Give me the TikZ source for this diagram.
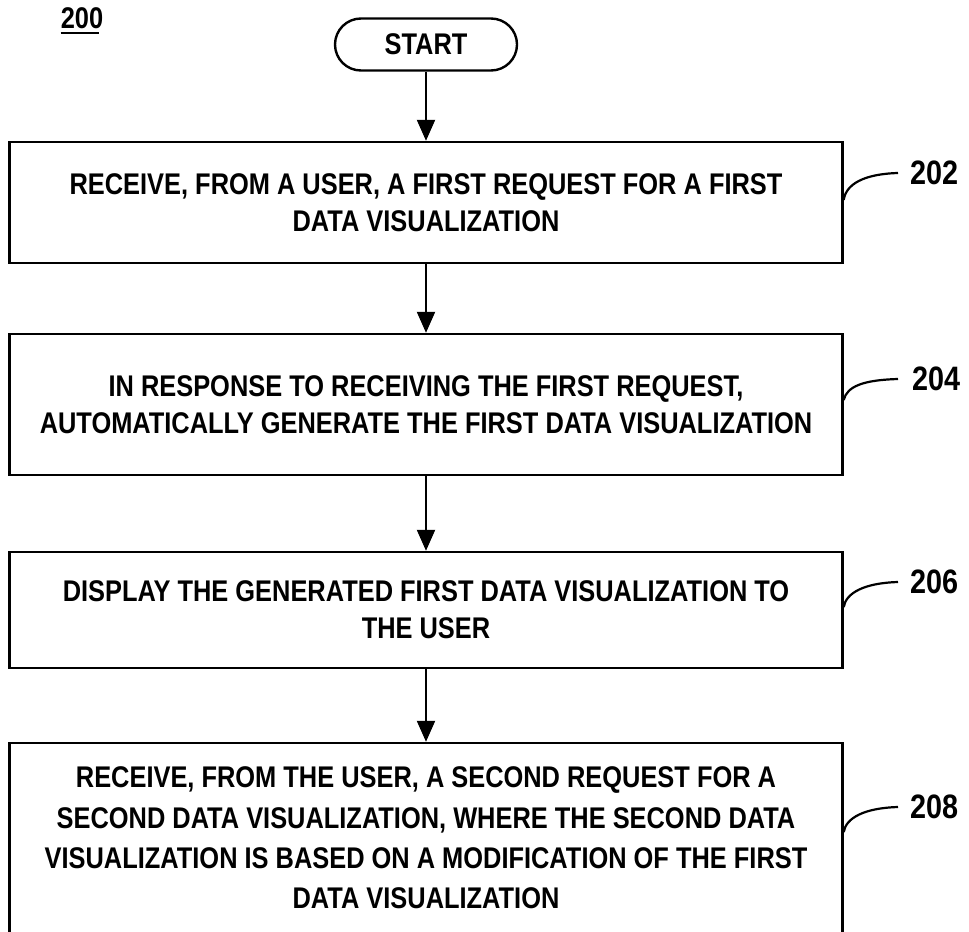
\documentclass[tikz,border=0pt]{standalone}
\usepackage{fontspec}
\setmainfont{Liberation Sans}[FakeStretch=0.85]
\usetikzlibrary{arrows.meta}
\begin{document}
\begin{tikzpicture}[x=1bp,y=-1bp,
  stepbox/.style={draw,line width=2.4bp,rectangle,minimum width=833bp,inner sep=0pt,align=center,font=\bfseries\fontsize{30}{37}\selectfont},
  flow/.style={line width=2.2bp,-{Triangle[length=21bp,width=18bp]}},
  lead/.style={line width=2.2bp},
  refnum/.style={font=\bfseries\fontsize{34}{36}\selectfont,inner sep=0pt,anchor=west}]
\useasboundingbox (0,0) rectangle (969,932);
\node[font=\bfseries\fontsize{30}{32}\selectfont,inner sep=0pt] (lbl) at (82,18) {200};
\draw[line width=2bp] (lbl.south west)++(0,4) -- ++(38,0);
\node[draw,line width=2.4bp,rounded corners=26bp,minimum width=182bp,minimum height=52bp,inner sep=0pt,font=\bfseries\fontsize{30}{32}\selectfont] (start) at (426,44.5) {START};
\node[stepbox,minimum height=121bp] (b202) at (426,202.5) {RECEIVE, FROM A USER, A FIRST REQUEST FOR A FIRST\\DATA VISUALIZATION};
\node[stepbox,minimum height=141bp] (b204) at (426,404.5) {IN RESPONSE TO RECEIVING THE FIRST REQUEST,\\AUTOMATICALLY GENERATE THE FIRST DATA VISUALIZATION};
\node[stepbox,minimum height=116bp] (b206) at (426,610) {DISPLAY THE GENERATED FIRST DATA VISUALIZATION TO\\THE USER};
\node[stepbox,minimum height=190bp,font=\bfseries\fontsize{30}{40.5}\selectfont] (b208) at (426,838) {RECEIVE, FROM THE USER, A SECOND REQUEST FOR A\\SECOND DATA VISUALIZATION, WHERE THE SECOND DATA\\VISUALIZATION IS BASED ON A MODIFICATION OF THE FIRST\\DATA VISUALIZATION};
\draw[flow] (start) -- (b202);
\draw[flow] (b202) -- (b204);
\draw[flow] (b204) -- (b206);
\draw[flow] (b206) -- (b208);
\node[refnum] (n202) at (910,173) {202};
\node[refnum] (n204) at (912,379) {204};
\node[refnum] (n206) at (910,582) {206};
\node[refnum] (n208) at (910,807) {208};
\draw[lead] (b202.east |- 0,200) .. controls (846,184) and (864,174) .. ([xshift=-12bp]n202.west);
\draw[lead] (b204.east |- 0,400) .. controls (847,386) and (864,380) .. ([xshift=-14bp]n204.west);
\draw[lead] (b206.east |- 0,607) .. controls (846,593) and (864,583) .. ([xshift=-12bp]n206.west);
\draw[lead] (b208.east |- 0,832) .. controls (846,818) and (864,808) .. ([xshift=-12bp]n208.west);
\end{tikzpicture}
\end{document}
